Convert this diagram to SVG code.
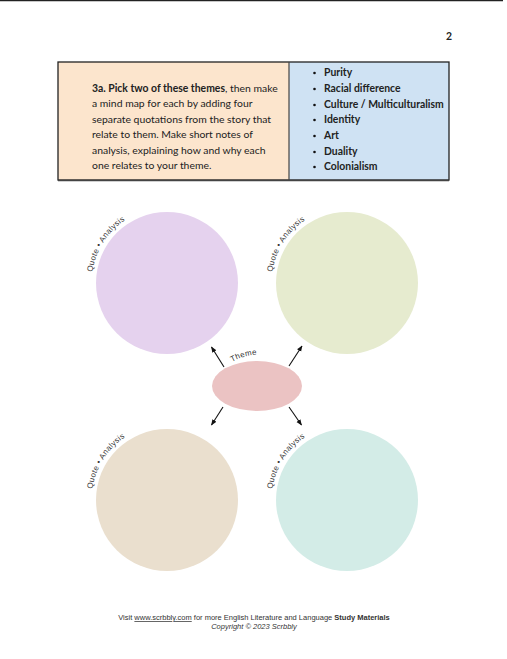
<svg xmlns="http://www.w3.org/2000/svg" width="507" height="659" viewBox="0 0 507 659">
<style>
.body{font-family:Lato,"Open Sans","Noto Sans",sans-serif;font-size:10.4px;fill:#222}
.b{font-weight:bold}
.qa{font-family:"Liberation Sans",Arial,sans-serif;font-size:7.9px;fill:#333;letter-spacing:0.35px}
.foot{font-family:"Liberation Sans",Arial,sans-serif;font-size:7.5px;fill:#333}
.arr{stroke:#111;stroke-width:1.1;fill:none;marker-end:url(#ah)}
</style>
<defs>
<marker id="ah" viewBox="0 0 10 10" refX="9" refY="5" markerWidth="6" markerHeight="6" orient="auto" markerUnits="userSpaceOnUse">
<path d="M0,1 L10,5 L0,9 Z" fill="#111"/>
</marker>
<path id="arcP" d="M92.3,272 A75.5,75.5 0 0 1 167,207.5"/>
<path id="arcG" d="M272.3,272 A75.5,75.5 0 0 1 347,207.5"/>
<path id="arcB" d="M92.3,489 A75.5,75.5 0 0 1 167,424.5"/>
<path id="arcT" d="M272.3,489 A75.5,75.5 0 0 1 347,424.5"/>
<path id="arcTheme" d="M232,362 Q248,353 265,355"/>
</defs>
<rect width="507" height="659" fill="#fff"/>
<line x1="0" y1="0.5" x2="503" y2="0.5" stroke="#222" stroke-width="1.5"/>
<text x="446" y="40" class="body b" font-size="9">2</text>

<g id="table">
<rect x="58" y="62" width="231" height="118" fill="#fce5cd"/>
<rect x="289" y="62" width="160" height="118" fill="#cfe2f3"/>
<rect x="58" y="62" width="391" height="118" fill="none" stroke="#222" stroke-width="1.3"/>
<line x1="289" y1="62" x2="289" y2="180" stroke="#444" stroke-width="1.2"/>
<line x1="58" y1="180.5" x2="449" y2="180.5" stroke="#444" stroke-width="1.5"/>
<text class="body"><tspan x="92" y="92"><tspan class="b">3a. Pick two of these themes</tspan>, then make</tspan><tspan x="92" y="107">a mind map for each by adding four</tspan><tspan x="92" y="122.5">separate quotations from the story that</tspan><tspan x="92" y="138">relate to them. Make short notes of</tspan><tspan x="92" y="153.5">analysis, explaining how and why each</tspan><tspan x="92" y="169">one relates to your theme.</tspan></text>
<g class="body b">
<text x="324" y="76">Purity</text>
<text x="324" y="92">Racial difference</text>
<text x="324" y="108">Culture / Multiculturalism</text>
<text x="324" y="123">Identity</text>
<text x="324" y="139">Art</text>
<text x="324" y="155">Duality</text>
<text x="324" y="170">Colonialism</text>
</g>
<g fill="#111">
<circle cx="314.5" cy="73" r="1.3"/><circle cx="314.5" cy="89" r="1.3"/><circle cx="314.5" cy="105" r="1.3"/><circle cx="314.5" cy="120" r="1.3"/><circle cx="314.5" cy="136" r="1.3"/><circle cx="314.5" cy="152" r="1.3"/><circle cx="314.5" cy="167" r="1.3"/>
</g>
</g>

<g id="circle-purple">
<circle cx="167" cy="283" r="71" fill="#e5d2ee"/>
<text class="qa"><textPath href="#arcP">Quote • Analysis</textPath></text>
</g>
<g id="circle-green">
<circle cx="347" cy="283" r="71" fill="#e6ebcf"/>
<text class="qa"><textPath href="#arcG">Quote • Analysis</textPath></text>
</g>
<g id="circle-beige">
<circle cx="167" cy="500" r="71" fill="#eadfce"/>
<text class="qa"><textPath href="#arcB">Quote • Analysis</textPath></text>
</g>
<g id="circle-teal">
<circle cx="347" cy="500" r="71" fill="#d3ece7"/>
<text class="qa"><textPath href="#arcT">Quote • Analysis</textPath></text>
</g>
<g id="theme">
<ellipse cx="257" cy="386" rx="45" ry="25" fill="#ebc3c3"/>
<text class="qa" font-size="8" fill="#222" letter-spacing="0.2"><textPath href="#arcTheme">Theme</textPath></text>
</g>
<g id="connectors">
<line class="arr" x1="224" y1="367" x2="211.5" y2="347"/>
<line class="arr" x1="289" y1="366" x2="302" y2="346"/>
<line class="arr" x1="223" y1="407" x2="211.5" y2="425"/>
<line class="arr" x1="289" y1="407" x2="301.5" y2="425"/>
</g>

<g id="footer">
<text class="foot" x="254" y="620" text-anchor="middle">Visit <tspan text-decoration="underline">www.scrbbly.com</tspan> for more English Literature and Language <tspan font-weight="bold">Study Materials</tspan></text>
<text class="foot" x="254" y="629" text-anchor="middle" font-style="italic" font-size="6.6">Copyright © 2023 Scrbbly</text>
</g>
</svg>
